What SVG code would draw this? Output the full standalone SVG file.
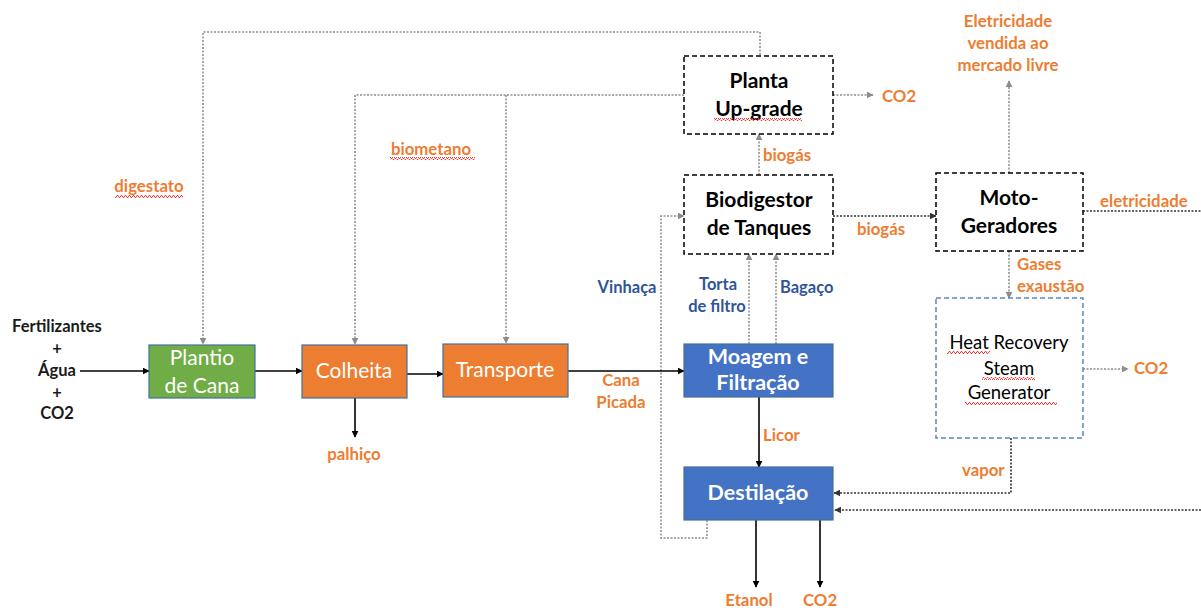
<svg xmlns="http://www.w3.org/2000/svg" width="1201" height="608" viewBox="0 0 1201 608">
  <style>
    text { font-family: Lato, "Liberation Sans", sans-serif; }
    .lbl { font-size: 16.8px; font-weight: bold; fill: #ED7D31; }
    .lblb { font-size: 16.5px; font-weight: bold; fill: #2F5597; }
    .blk { font-size: 16.5px; font-weight: bold; fill: #1a1a1a; }
    .bt { font-size: 21px; font-weight: bold; fill: #000; }
    .wt { font-size: 21px; fill: #fff; }
    .wb { font-size: 21.5px; font-weight: bold; fill: #fff; }
    .ht { font-size: 18.5px; fill: #000; }
    .solid { stroke: #000; stroke-width: 1.6; fill: none; }
    .dotg { stroke: #8c8c8c; stroke-width: 1.5; stroke-dasharray: 2 1.5; fill: none; }
    .dotk { stroke: #333; stroke-width: 1.6; stroke-dasharray: 2 1.5; fill: none; }
    .dash { stroke: #000; stroke-width: 1.5; stroke-dasharray: 5 3; fill: #fff; }
    .dashb { stroke: #5B86C5; stroke-width: 1.5; stroke-dasharray: 5 3; fill: #fff; }
    .sq { fill: url(#squig); }
  </style>
  <defs>
    <marker id="ak" viewBox="0 0 10 10" refX="9" refY="5" markerWidth="7" markerHeight="7" markerUnits="userSpaceOnUse" orient="auto">
      <path d="M0 0 L10 5 L0 10 z" fill="#000"/>
    </marker>
    <marker id="ag" viewBox="0 0 10 10" refX="9" refY="5" markerWidth="7" markerHeight="7" markerUnits="userSpaceOnUse" orient="auto">
      <path d="M0 0 L10 5 L0 10 z" fill="#8c8c8c"/>
    </marker>
    <marker id="ad" viewBox="0 0 10 10" refX="9" refY="5" markerWidth="7" markerHeight="7" markerUnits="userSpaceOnUse" orient="auto">
      <path d="M0 0 L10 5 L0 10 z" fill="#333"/>
    </marker>
    <pattern id="squig" x="0" y="0" width="4" height="3" patternUnits="userSpaceOnUse">
      <path d="M0 2.5 L1 0.5 L2 0.5 L3 2.5 L4 2.5" stroke="#e03030" stroke-width="0.9" fill="none"/>
    </pattern>
  </defs>

  <!-- connectors -->
  <g id="connectors">
    <!-- digestato return to planting -->
    <path class="dotg" d="M760 55 V32 H203 V344" marker-end="url(#ag)"/>
    <!-- biometano distribution -->
    <path class="dotg" d="M684 95 H355 V344" marker-end="url(#ag)"/>
    <path class="dotg" d="M506 95 V343" marker-end="url(#ag)"/>
    <!-- CO2 from upgrade -->
    <path class="dotg" d="M833 95 H873" marker-end="url(#ag)"/>
    <!-- biogas to upgrade -->
    <path class="dotg" d="M759 175 V134" marker-end="url(#ag)"/>
    <!-- biogas to generators -->
    <path class="dotk" d="M833 216 H936" marker-end="url(#ad)"/>
    <!-- electricity sold -->
    <path class="dotg" d="M1009 173 V81" marker-end="url(#ag)"/>
    <!-- electricity out -->
    <path class="dotk" d="M1083 211 H1201"/>
    <!-- exhaust gases -->
    <path class="dotg" d="M1009 251 V298" marker-end="url(#ag)"/>
    <!-- CO2 from HRSG -->
    <path class="dotg" d="M1083 369 H1128" marker-end="url(#ag)"/>
    <!-- steam to distillation -->
    <path class="dotk" d="M1011 438 V493 H834" marker-end="url(#ad)"/>
    <path class="dotk" d="M1201 510 H835" marker-end="url(#ad)"/>
    <!-- vinasse loop -->
    <path class="dotg" d="M707 520 V538 H661 V216 H684" marker-end="url(#ag)"/>
    <!-- filter cake and bagasse -->
    <path class="dotg" d="M749 344 V254" marker-end="url(#ag)"/>
    <path class="dotg" d="M776 344 V254" marker-end="url(#ag)"/>
    <!-- main flow -->
    <path class="solid" d="M80 371 H149" marker-end="url(#ak)"/>
    <path class="solid" d="M255 371 H302" marker-end="url(#ak)"/>
    <path class="solid" d="M407 374 H443" marker-end="url(#ak)"/>
    <path class="solid" d="M355 398 V437" marker-end="url(#ak)"/>
    <path class="solid" d="M568 371 H684" marker-end="url(#ak)"/>
    <path class="solid" d="M759 397 V467" marker-end="url(#ak)"/>
    <path class="solid" d="M756 520 V587" marker-end="url(#ak)"/>
    <path class="solid" d="M820 520 V587" marker-end="url(#ak)"/>
  </g>

  <!-- nodes -->
  <g id="plantio">
    <rect x="149" y="345" width="106" height="53" fill="#70AD47" stroke="#41719C" stroke-width="1.2"/>
    <text class="wt" x="202" y="365" text-anchor="middle">Plantio</text>
    <text class="wt" x="202" y="393" text-anchor="middle">de Cana</text>
  </g>
  <g id="colheita">
    <rect x="302" y="345" width="105" height="53" fill="#ED7D31" stroke="#41719C" stroke-width="1.2"/>
    <text class="wt" x="354" y="378" text-anchor="middle">Colheita</text>
  </g>
  <g id="transporte">
    <rect x="443" y="344" width="125" height="53" fill="#ED7D31" stroke="#41719C" stroke-width="1.2"/>
    <text class="wt" x="505" y="377" text-anchor="middle">Transporte</text>
  </g>
  <g id="moagem">
    <rect x="684" y="344" width="149" height="53" fill="#4472C4" stroke="#41719C" stroke-width="1.2"/>
    <text class="wb" x="758" y="364" text-anchor="middle">Moagem e</text>
    <text class="wb" x="758" y="390" text-anchor="middle">Filtração</text>
  </g>
  <g id="destilacao">
    <rect x="684" y="467" width="149" height="53" fill="#4472C4" stroke="#41719C" stroke-width="1.2"/>
    <text class="wb" x="758" y="500" text-anchor="middle">Destilação</text>
  </g>
  <g id="planta-upgrade">
    <rect class="dash" x="684" y="56" width="149" height="78"/>
    <text class="bt" x="759" y="88" text-anchor="middle">Planta</text>
    <text class="bt" x="759" y="116" text-anchor="middle">Up-grade</text>
    <rect class="sq" x="714" y="118" width="88" height="3"/>
  </g>
  <g id="biodigestor">
    <rect class="dash" x="684" y="175" width="149" height="79"/>
    <text class="bt" x="759" y="207" text-anchor="middle">Biodigestor</text>
    <text class="bt" x="759" y="235" text-anchor="middle">de Tanques</text>
  </g>
  <g id="motogeradores">
    <rect class="dash" x="936" y="173" width="147" height="78"/>
    <text class="bt" x="1009" y="205" text-anchor="middle">Moto-</text>
    <text class="bt" x="1009" y="233" text-anchor="middle">Geradores</text>
  </g>
  <g id="hrsg">
    <rect class="dashb" x="936" y="298" width="147" height="140"/>
    <text class="ht" x="1009" y="349" text-anchor="middle">Heat Recovery</text>
    <text class="ht" x="1009" y="375" text-anchor="middle">Steam</text>
    <text class="ht" x="1009" y="399" text-anchor="middle">Generator</text>
    <rect class="sq" x="947" y="351" width="43" height="3"/>
    <rect class="sq" x="982" y="377" width="53" height="3"/>
    <rect class="sq" x="965" y="402" width="92" height="3"/>
  </g>

  <!-- flow labels -->
  <g id="labels">
    <text class="blk" x="57" y="332" text-anchor="middle">Fertilizantes</text>
    <text class="blk" x="57" y="354" text-anchor="middle">+</text>
    <text class="blk" x="57" y="376" text-anchor="middle">Água</text>
    <text class="blk" x="57" y="398" text-anchor="middle">+</text>
    <text class="blk" x="57" y="419" text-anchor="middle">CO2</text>

    <text class="lbl" x="149" y="192" text-anchor="middle">digestato</text>
    <rect class="sq" x="115" y="195" width="68" height="3"/>
    <text class="lbl" x="431" y="155" text-anchor="middle">biometano</text>
    <rect class="sq" x="390" y="157" width="85" height="3"/>

    <text class="lbl" x="882" y="102">CO2</text>
    <text class="lbl" x="763" y="161">biogás</text>
    <text class="lbl" x="857" y="235">biogás</text>
    <text class="lbl" x="1008" y="27" text-anchor="middle">Eletricidade</text>
    <text class="lbl" x="1008" y="49" text-anchor="middle">vendida ao</text>
    <text class="lbl" x="1008" y="71" text-anchor="middle">mercado livre</text>
    <text class="lbl" x="1100" y="207">eletricidade</text>
    <text class="lbl" x="1017" y="270">Gases</text>
    <text class="lbl" x="1017" y="292">exaustão</text>
    <text class="lbl" x="1134" y="374">CO2</text>
    <text class="lbl" x="962" y="476">vapor</text>
    <text class="lbl" x="763" y="441">Licor</text>
    <text class="lbl" x="749" y="606" text-anchor="middle">Etanol</text>
    <text class="lbl" x="803" y="606">CO2</text>
    <text class="lbl" x="621" y="386" text-anchor="middle">Cana</text>
    <text class="lbl" x="621" y="408" text-anchor="middle">Picada</text>
    <text class="lbl" x="354" y="460" text-anchor="middle">palhiço</text>
    <text class="lblb" x="627" y="293" text-anchor="middle">Vinhaça</text>
    <text class="lblb" x="718" y="290" text-anchor="middle">Torta</text>
    <text class="lblb" x="717" y="312" text-anchor="middle">de filtro</text>
    <text class="lblb" x="780" y="293">Bagaço</text>
  </g>
</svg>
